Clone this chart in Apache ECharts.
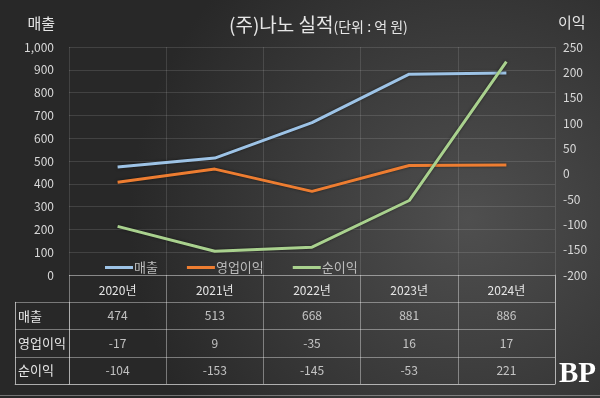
<!DOCTYPE html>
<html><head><meta charset="utf-8">
<script src="https://cdn.jsdelivr.net/npm/echarts@6/dist/echarts.min.js"></script>
<style>html,body{margin:0;padding:0;background:#333;}#c{width:600px;height:398px;}</style>
</head><body><div id="c"></div>
<script>
const years = ['2020년','2021년','2022년','2023년','2024년'];
const sales = [474, 513, 668, 881, 886];
const opProfit = [-17, 9, -35, 16, 17];
const netProfit = [-104, -153, -145, -53, 221];
const rowNames = ['순이익','영업이익','매출'];
const leftTicks = {min:0, max:1000, interval:100};
const rightTicks = {min:-200, max:250, interval:50};

const F = '"Noto Sans CJK KR","Noto Sans",sans-serif';
const tableRows = ['순이익','영업이익','매출','head'];
const tableData = [];
years.forEach((y,i)=>{
  tableData.push([y,'매출',sales[i]]);
  tableData.push([y,'영업이익',opProfit[i]]);
  tableData.push([y,'순이익',netProfit[i]]);
});
const lineCol = 'rgba(255,255,255,0.38)';
const chart = echarts.init(document.getElementById('c'));
chart.setOption({
  backgroundColor: {type:'radial', x:0.78, y:0.55, r:0.85, colorStops:[{offset:0,color:'#4f4f4f'},{offset:1,color:'#282828'}]},
  animation:false,
  title:{text:'(주)나노 실적{s|(단위 : 억 원)}', left:224, top:10,
    textStyle:{color:'#e6e6e6', fontSize:19, fontWeight:'normal', fontFamily:F, rich:{s:{fontSize:14, color:'#e6e6e6', fontFamily:F, padding:[4,0,0,0]}}}},
  legend:{left:100, top:256, itemWidth:28, itemHeight:3, itemGap:29, icon:'rect',
    textStyle:{color:'#bdbdbd', fontSize:13, fontFamily:F, padding:[0,0,0,-4]},
    data:['매출','영업이익','순이익']},
  grid:[
    {left:69, right:45, top:47, height:228},
    {left:69, right:45, top:275, height:109},
    {left:15, width:54, top:302.25, height:81.75}
  ],
  xAxis:[
    {type:'category', gridIndex:0, data:years, boundaryGap:true,
      axisLine:{show:false}, axisTick:{show:false},
      axisLabel:{color:'#e6e6e6', fontSize:12, fontFamily:F, margin:9},
      splitLine:{show:true, lineStyle:{color:'rgba(255,255,255,0.12)'}}},
    {type:'category', gridIndex:1, data:years, boundaryGap:true,
      axisLine:{show:true, lineStyle:{color:lineCol}}, axisTick:{show:false}, axisLabel:{show:false},
      splitLine:{show:true, lineStyle:{color:lineCol}}},
    {type:'category', gridIndex:2, data:['x'], boundaryGap:true,
      axisLine:{show:true, lineStyle:{color:lineCol}}, axisTick:{show:false}, axisLabel:{show:false},
      splitLine:{show:true, lineStyle:{color:lineCol}}}
  ],
  yAxis:[
    {type:'value', gridIndex:0, min:leftTicks.min, max:leftTicks.max, interval:leftTicks.interval,
      name:'매출', nameLocation:'end', nameGap:16, nameTextStyle:{color:'#e6e6e6', fontSize:15, fontFamily:F, align:'right', padding:[0,14,0,0]},
      axisLine:{show:false}, axisTick:{show:false},
      axisLabel:{color:'#d8d8d8', fontSize:12, fontFamily:F, margin:15, formatter:v=>v.toLocaleString('en-US')},
      splitLine:{show:true, lineStyle:{color:'rgba(255,255,255,0.12)'}}},
    {type:'value', gridIndex:0, position:'right', min:rightTicks.min, max:rightTicks.max, interval:rightTicks.interval,
      name:'이익', nameLocation:'end', nameGap:17, nameTextStyle:{color:'#e6e6e6', fontSize:15, fontFamily:F, align:'left', padding:[0,0,0,3]},
      axisLine:{show:false}, axisTick:{show:false},
      axisLabel:{color:'#d8d8d8', fontSize:12, fontFamily:F, margin:8},
      splitLine:{show:false}},
    {type:'category', gridIndex:1, data:tableRows, boundaryGap:true, position:'right',
      axisLine:{show:true, lineStyle:{color:lineCol}}, axisTick:{show:false}, axisLabel:{show:false},
      splitLine:{show:true, lineStyle:{color:lineCol}}},
    {type:'category', gridIndex:2, data:rowNames, boundaryGap:true,
      axisLine:{show:true, lineStyle:{color:lineCol}}, axisTick:{show:false},
      axisLabel:{inside:true, margin:3, color:'#e6e6e6', fontSize:13, fontFamily:F},
      splitLine:{show:true, lineStyle:{color:lineCol}}}
  ],
  series:[
    {name:'매출', type:'line', xAxisIndex:0, yAxisIndex:0, data:sales, showSymbol:false, symbol:'none',
      lineStyle:{width:3, color:'#9dc3e6', shadowColor:'rgba(0,0,0,0.5)', shadowBlur:3}, itemStyle:{color:'#9dc3e6'}},
    {name:'영업이익', type:'line', xAxisIndex:0, yAxisIndex:1, data:opProfit, showSymbol:false, symbol:'none',
      lineStyle:{width:3, color:'#ed7d31', shadowColor:'rgba(0,0,0,0.5)', shadowBlur:3}, itemStyle:{color:'#ed7d31'}},
    {name:'순이익', type:'line', xAxisIndex:0, yAxisIndex:1, data:netProfit, showSymbol:false, symbol:'none',
      lineStyle:{width:3, color:'#a9d18e', shadowColor:'rgba(0,0,0,0.5)', shadowBlur:3}, itemStyle:{color:'#a9d18e'}},
    {type:'scatter', xAxisIndex:1, yAxisIndex:2, data:tableData, symbolSize:1, itemStyle:{color:'rgba(0,0,0,0)'},
      label:{show:true, position:'inside', color:'#e6e6e6', fontSize:12, fontFamily:F, formatter:p=>String(p.value[2])}, silent:true}
  ],
  graphic:[
    {type:'text', right:4, bottom:9, style:{text:'BP', fill:'#ffffff', font:'bold 29px "Liberation Serif", serif'}},
    {type:'rect', left:0, bottom:2, shape:{width:600, height:1}, style:{fill:'rgba(255,255,255,0.35)'}}
  ]
});
</script></body></html>
